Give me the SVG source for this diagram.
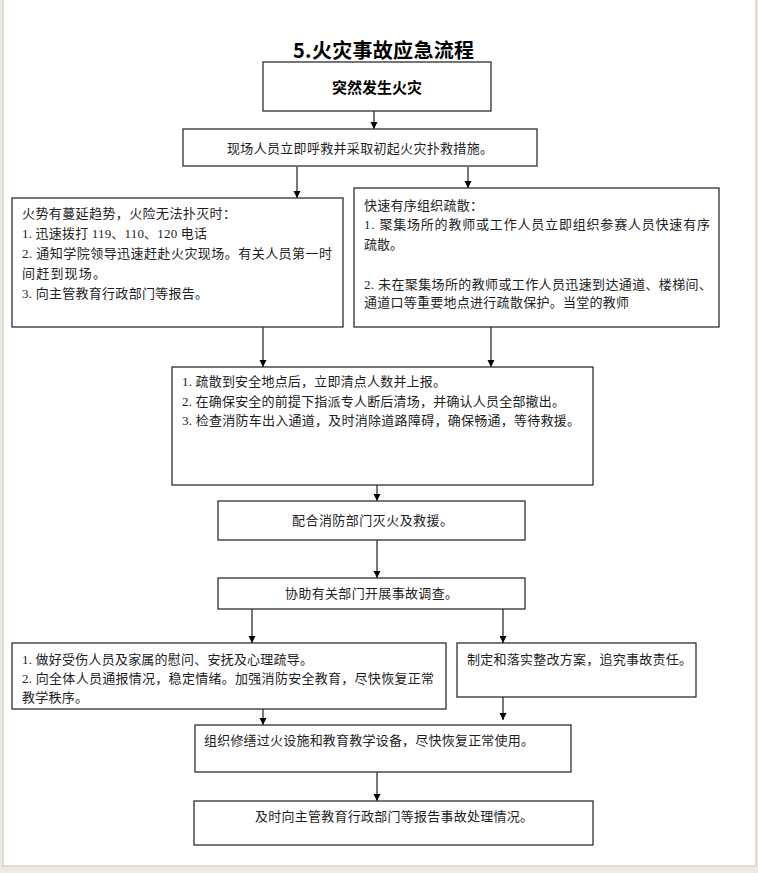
<svg xmlns="http://www.w3.org/2000/svg" width="758" height="873" viewBox="0 0 758 873">
<style>
.box{fill:#ffffff;stroke:#2e2e2e;stroke-width:1.3}
.t{font-family:"Liberation Serif","Noto Sans CJK SC",serif;font-size:13px;fill:#1e1e1e}
.b{font-family:"Noto Sans CJK SC","Liberation Sans",sans-serif;font-weight:bold;fill:#000}
.ln{stroke:#1e1e1e;stroke-width:1.2;fill:none}
</style>
<defs>
<marker id="ah" viewBox="0 0 10 10" refX="10" refY="5" markerWidth="7" markerHeight="8" markerUnits="userSpaceOnUse" orient="auto">
<path d="M0,0 L10,5 L0,10 z" fill="#000"/>
</marker>
</defs>
<rect x="0" y="0" width="758" height="873" fill="#efebe3"/>
<rect x="3" y="-1" width="753" height="867" fill="#ffffff" stroke="#c9c5bd" stroke-width="1"/>

<text class="b" x="293" y="58" font-size="20" textLength="181">5.火灾事故应急流程</text>

<g id="connectors">
<line class="ln" x1="374" y1="111" x2="374" y2="129" marker-end="url(#ah)"/>
<line class="ln" x1="297" y1="167" x2="297" y2="198" marker-end="url(#ah)"/>
<line class="ln" x1="468" y1="167" x2="468" y2="188" marker-end="url(#ah)"/>
<line class="ln" x1="263" y1="327" x2="263" y2="367" marker-end="url(#ah)"/>
<line class="ln" x1="491" y1="327" x2="491" y2="367" marker-end="url(#ah)"/>
<line class="ln" x1="377" y1="485" x2="377" y2="501" marker-end="url(#ah)"/>
<line class="ln" x1="377" y1="540" x2="377" y2="578" marker-end="url(#ah)"/>
<line class="ln" x1="252" y1="609" x2="252" y2="643" marker-end="url(#ah)"/>
<line class="ln" x1="503" y1="609" x2="503" y2="643" marker-end="url(#ah)"/>
<line class="ln" x1="263" y1="709" x2="263" y2="725" marker-end="url(#ah)"/>
<line class="ln" x1="503" y1="694" x2="503" y2="720" marker-end="url(#ah)"/>
<line class="ln" x1="377" y1="772" x2="377" y2="801" marker-end="url(#ah)"/>
</g>

<g id="n1">
<rect class="box" x="263" y="62" width="228" height="49"/>
<text class="b" x="332" y="93" font-size="15" textLength="90">突然发生火灾</text>
</g>

<g id="n2">
<rect class="box" x="183" y="129" width="354" height="37"/>
<text class="t" x="227" y="153" textLength="266">现场人员立即呼救并采取初起火灾扑救措施。</text>
</g>

<g id="n3">
<rect class="box" x="12" y="198" width="331" height="129"/>
<text class="t" x="22" y="218" textLength="214">火势有蔓延趋势，火险无法扑灭时：</text>
<text class="t" x="22" y="238" textLength="185">1. 迅速拨打 119、110、120 电话</text>
<text class="t" x="22" y="258" textLength="310">2. 通知学院领导迅速赶赴火灾现场。有关人员第一时</text>
<text class="t" x="22" y="278" textLength="84">间赶到现场。</text>
<text class="t" x="22" y="298" textLength="186">3. 向主管教育行政部门等报告。</text>
</g>

<g id="n4">
<rect class="box" x="354" y="188" width="365" height="139"/>
<text class="t" x="364" y="210" textLength="119">快速有序组织疏散：</text>
<text class="t" x="364" y="229" textLength="346">1. 聚集场所的教师或工作人员立即组织参赛人员快速有序</text>
<text class="t" x="364" y="249" textLength="39">疏散。</text>
<text class="t" x="364" y="289" textLength="348">2. 未在聚集场所的教师或工作人员迅速到达通道、楼梯间、</text>
<text class="t" x="364" y="307" textLength="265">通道口等重要地点进行疏散保护。当堂的教师</text>
</g>

<g id="n5">
<rect class="box" x="172" y="367" width="421" height="118"/>
<text class="t" x="182" y="386" textLength="264">1. 疏散到安全地点后，立即清点人数并上报。</text>
<text class="t" x="182" y="406" textLength="383">2. 在确保安全的前提下指派专人断后清场，并确认人员全部撤出。</text>
<text class="t" x="182" y="425" textLength="398">3. 检查消防车出入通道，及时消除道路障碍，确保畅通，等待救援。</text>
</g>

<g id="n6">
<rect class="box" x="218" y="501" width="307" height="39"/>
<text class="t" x="292" y="525" textLength="161">配合消防部门灭火及救援。</text>
</g>

<g id="n7">
<rect class="box" x="218" y="578" width="307" height="31"/>
<text class="t" x="285" y="598" textLength="173">协助有关部门开展事故调查。</text>
</g>

<g id="n8">
<rect class="box" x="12" y="643" width="434" height="66"/>
<text class="t" x="22" y="664" textLength="291">1. 做好受伤人员及家属的慰问、安抚及心理疏导。</text>
<text class="t" x="22" y="683" textLength="412">2. 向全体人员通报情况，稳定情绪。加强消防安全教育，尽快恢复正常</text>
<text class="t" x="22" y="702" textLength="66">教学秩序。</text>
</g>

<g id="n9">
<rect class="box" x="457" y="643" width="239" height="54"/>
<text class="t" x="467" y="664" textLength="225">制定和落实整改方案，追究事故责任。</text>
</g>

<g id="n10">
<rect class="box" x="195" y="725" width="376" height="47"/>
<text class="t" x="204" y="745" textLength="330">组织修缮过火设施和教育教学设备，尽快恢复正常使用。</text>
</g>

<g id="n11">
<rect class="box" x="194" y="801" width="399" height="44"/>
<text class="t" x="255" y="821" textLength="278">及时向主管教育行政部门等报告事故处理情况。</text>
</g>
</svg>
